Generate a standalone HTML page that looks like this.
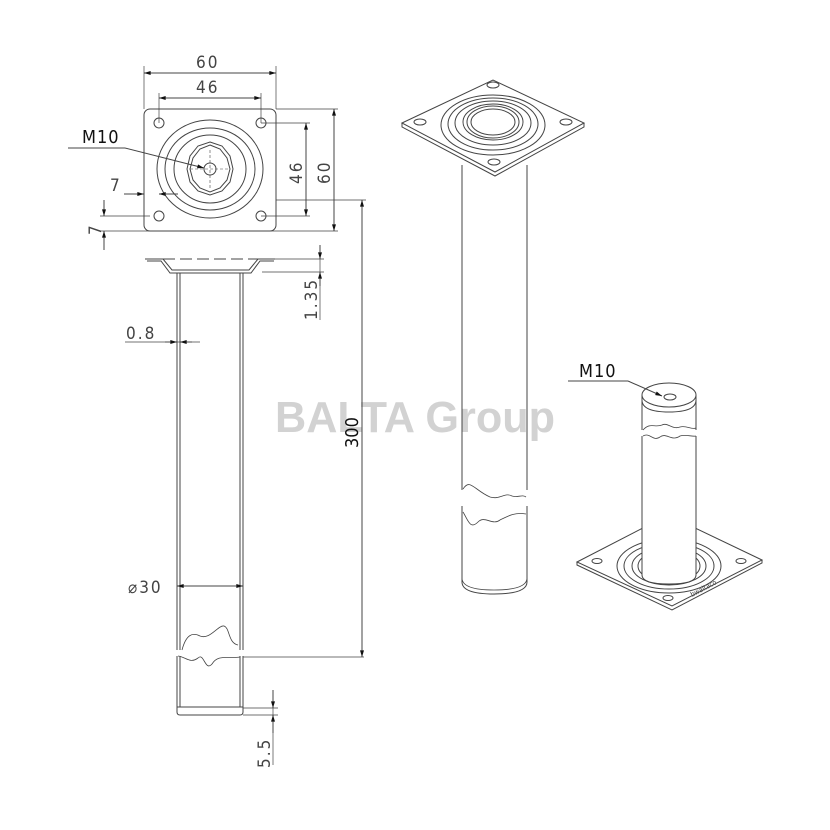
<!DOCTYPE html>
<html><head><meta charset="utf-8"><style>
html,body{margin:0;padding:0;background:#fff;width:830px;height:830px;overflow:hidden}
svg{display:block}
text{font-family:"DejaVu Sans Condensed","Liberation Sans Narrow","Liberation Sans",sans-serif;fill:#444}
</style></head><body>
<svg width="830" height="830" viewBox="0 0 830 830" xmlns="http://www.w3.org/2000/svg">
<defs>
<marker id="a" viewBox="0 0 10 6" refX="10" refY="3" markerWidth="10" markerHeight="4" orient="auto-start-reverse" markerUnits="userSpaceOnUse"><path d="M0,0 L10,3 L0,6z" fill="#111"/></marker>
</defs>
<text x="275" y="432" font-size="44" font-weight="bold" textLength="280" lengthAdjust="spacingAndGlyphs" style="fill:#d2d2d2;font-family:'Liberation Sans',sans-serif">BALTA Group</text>

<g fill="none" stroke="#444" stroke-width="1">
<rect x="144" y="109" width="132" height="122" rx="6"/>
<circle cx="159" cy="123" r="5"/><circle cx="261" cy="123" r="5"/>
<circle cx="159" cy="216" r="5"/><circle cx="261" cy="216" r="5"/>
<ellipse cx="210" cy="169" rx="53" ry="49"/>
<ellipse cx="210" cy="169" rx="45" ry="41"/>
<ellipse cx="210" cy="169" rx="36" ry="34"/>
<polygon points="210,142 222,146 230,156 233,169 230,182 222,191 210,195 198,191 190,182 187,169 190,156 198,146"/>
<polygon points="210,145 220,149 227,158 230,169 227,180 220,188 210,192 200,188 193,180 190,169 193,158 200,149"/>
<circle cx="210" cy="169" r="6"/>
<path d="M210,150 V190 M190,169 H230" stroke-dasharray="3,2" stroke-width="0.6"/>
<path d="M144,109 V66 M276,109 V66 M159,123 V93 M261,123 V93" stroke-width="0.7"/>
<line x1="144" y1="73" x2="276" y2="73" marker-start="url(#a)" marker-end="url(#a)"/>
<line x1="159" y1="98" x2="261" y2="98" marker-start="url(#a)" marker-end="url(#a)"/>
<path d="M276,109 H338 M261,123 H310 M261,216 H310 M100,231 H338 M276,200 H366 M150,216 H100" stroke-width="0.7"/>
<line x1="306" y1="123" x2="306" y2="216" marker-start="url(#a)" marker-end="url(#a)"/>
<line x1="334" y1="109" x2="334" y2="231" marker-start="url(#a)" marker-end="url(#a)"/>
<path d="M68,148 H125"/>
<line x1="125" y1="148" x2="204" y2="168" marker-end="url(#a)"/>
<line x1="124" y1="194" x2="144" y2="194" marker-end="url(#a)"/>
<line x1="178" y1="194" x2="159" y2="194" marker-end="url(#a)"/>
<line x1="104" y1="200" x2="104" y2="216" marker-end="url(#a)"/>
<line x1="104" y1="250" x2="104" y2="231" marker-end="url(#a)"/>

<path d="M145,259 H163 L172,270 H249 L258,259 H275"/>
<path d="M147,261 H161 L170,273 H251 L260,261 H274"/>
<path d="M163,259 H258" stroke-dasharray="12,5"/>
<path d="M172,270 H249" stroke-dasharray="12,3"/>
<path d="M177,273 V650 M180,273 V650 M240,273 V650 M243,273 V650"/>
<path d="M177,656 V712 M180,656 V707 M240,656 V707 M243,656 V712"/>
<path d="M177,707 H243 M177,712 Q177,715 180,715 H240 Q243,715 243,712"/>
<path d="M182,650 C186,635 192,632 200,636 C210,640 218,625 224,626 C230,628 228,643 238,645" stroke-width="0.8"/>
<path d="M178,656 C186,657 190,664 198,658 C204,652 205,672 212,664 C218,654 228,659 240,657" stroke-width="0.8"/>
<path d="M275,259 H324 M262,272 H324 M320,252 V320" stroke-width="0.7"/>
<line x1="320" y1="245" x2="320" y2="259" marker-end="url(#a)"/>
<line x1="320" y1="286" x2="320" y2="272" marker-end="url(#a)"/>
<path d="M243,657 H364" stroke-width="0.7"/>
<line x1="362" y1="200" x2="362" y2="657" marker-start="url(#a)" marker-end="url(#a)"/>
<path d="M125,342 H200" stroke-width="0.7"/>
<line x1="165" y1="342" x2="177" y2="342" marker-end="url(#a)"/>
<line x1="192" y1="342" x2="180" y2="342" marker-end="url(#a)"/>
<line x1="177" y1="586" x2="243" y2="586" marker-start="url(#a)" marker-end="url(#a)"/>
<path d="M243,708 H278 M243,715 H278 M273,690 V765" stroke-width="0.7"/>
<line x1="273" y1="690" x2="273" y2="708" marker-end="url(#a)"/>
<line x1="273" y1="733" x2="273" y2="715" marker-end="url(#a)"/>

<path d="M462,165 V490 M527,165 V490 M462,506 V582 M527,506 V582"/>
<path d="M462,582 Q462,594 494,594 Q527,594 527,582"/>
<path d="M462,578 Q462,590 494,590 Q527,590 527,578" stroke-width="0.8"/>
<path d="M463,489 C470,478 474,490 490,497 C500,500 505,492 512,496 C518,498 522,494 526,497" stroke-width="0.8"/>
<path d="M463,512 C468,520 470,530 478,522 C485,515 492,526 500,520 C508,516 515,512 526,514" stroke-width="0.8"/>
<polygon points="402,123 493,80 584,123 495,172" fill="#fff"/>
<path d="M402,123 L402,127 L495,176 L584,127 L584,123" />
<ellipse cx="420" cy="122" rx="6" ry="3"/><ellipse cx="493" cy="85" rx="6" ry="3"/>
<ellipse cx="566" cy="122" rx="6" ry="3"/><ellipse cx="494" cy="162" rx="6" ry="3"/>
<ellipse cx="493" cy="125" rx="52" ry="30"/>
<ellipse cx="493" cy="124" rx="45" ry="26"/>
<ellipse cx="493" cy="123" rx="38" ry="22"/>
<ellipse cx="493" cy="122" rx="30" ry="18"/>
<ellipse cx="493" cy="122" rx="26" ry="16"/>
<ellipse cx="493" cy="122" rx="22" ry="13"/>

<polygon points="577,562 668,515 762,560 672,606" fill="#fff"/>
<path d="M577,562 V565 L672,610 L762,563 V560"/>
<ellipse cx="597" cy="561" rx="5" ry="2.5"/><ellipse cx="741" cy="561" rx="5" ry="2.5"/>
<ellipse cx="668" cy="598" rx="5" ry="2.5"/>
<ellipse cx="669" cy="566" rx="52" ry="27"/>
<ellipse cx="669" cy="566" rx="45" ry="23"/>
<ellipse cx="669" cy="566" rx="37" ry="19"/>
<ellipse cx="669" cy="566" rx="31" ry="16"/>
<path d="M642,575 Q642,584 669,584 Q696,584 696,575" fill="#fff"/>
<rect x="642" y="395" width="54" height="180" fill="#fff" stroke="none"/>
<path d="M642,395 V430 M696,395 V430 M642,436 V575 M696,436 V575"/>
<ellipse cx="669" cy="395" rx="27" ry="12" fill="#fff"/>
<path d="M642,400 Q642,412 669,412 Q696,412 696,400"/>
<ellipse cx="670" cy="397" rx="6" ry="3"/>
<path d="M643,430 C650,422 655,428 662,425 C668,422 672,430 680,427 C686,425 692,430 696,428" stroke-width="0.8"/>
<path d="M643,436 C650,432 653,442 660,437 C666,432 672,442 680,436 C686,434 692,437 696,436" stroke-width="0.8"/>
<path d="M568,381 H628"/>
<line x1="628" y1="381" x2="662" y2="396" marker-end="url(#a)"/>
</g>

<g font-size="17" letter-spacing="2">
<text x="196" y="68">60</text>
<text x="196" y="93">46</text>
<text x="82" y="143" font-size="18" letter-spacing="1" style="fill:#111">M10</text>
<text x="110" y="191">7</text>
<text transform="translate(101,235) rotate(-90)">7</text>
<text transform="translate(302,184) rotate(-90)">46</text>
<text transform="translate(330,184) rotate(-90)">60</text>
<text transform="translate(317,320) rotate(-90)">1.35</text>
<text transform="translate(358,448) rotate(-90)" font-size="18" letter-spacing="0" style="fill:#111">300</text>
<text x="126" y="339">0.8</text>
<text x="128" y="593">⌀30</text>
<text transform="translate(270,768) rotate(-90)">5.5</text>
<text x="579" y="377" font-size="18" letter-spacing="1" style="fill:#111">M10</text>
<text transform="translate(692,597) rotate(-28)" font-size="7" letter-spacing="0">bwaltaco</text>
</g>
</svg>
</body></html>
